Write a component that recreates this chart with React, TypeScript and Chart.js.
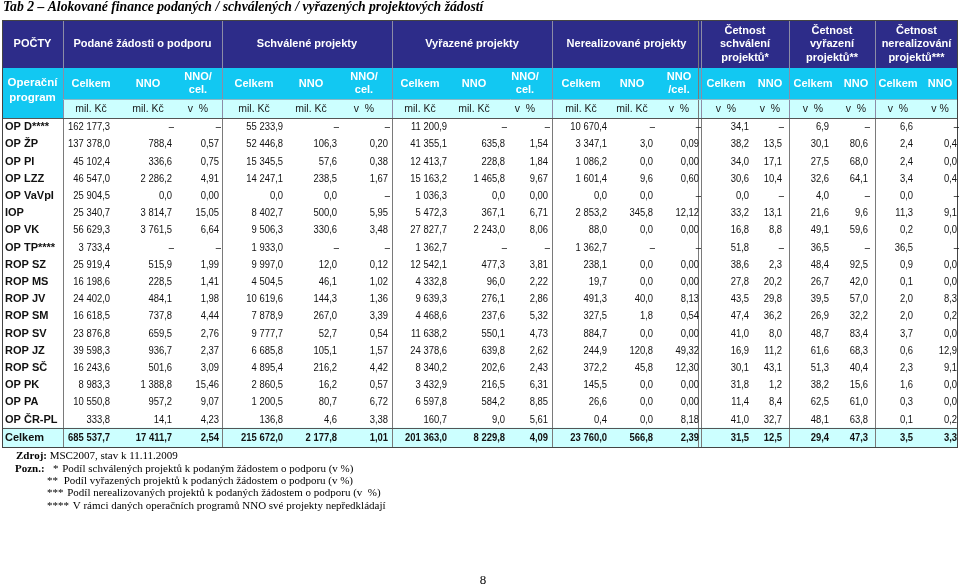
import React, { useEffect, useRef } from "react";
import { Chart, registerables } from "chart.js";

Chart.register(...registerables);

// ---------- DATA ----------
const titleText = "Tab 2 – Alokované finance podaných / schválených / vyřazených projektových žádostí";

const programs = [
  "OP D****", "OP ŽP", "OP PI", "OP LZZ", "OP VaVpI", "IOP", "OP VK", "OP TP****",
  "ROP SZ", "ROP MS", "ROP JV", "ROP SM", "ROP SV", "ROP JZ", "ROP SČ",
  "OP PK", "OP PA", "OP ČR-PL", "Celkem",
];

// Podané žádosti o podporu
const podaneCelkem = [162177.3, 137378.0, 45102.4, 46547.0, 25904.5, 25340.7, 56629.3, 3733.4, 25919.4, 16198.6, 24402.0, 16618.5, 23876.8, 39598.3, 16243.6, 8983.3, 10550.8, 333.8, 685537.7];
const podaneNNO = [null, 788.4, 336.6, 2286.2, 0.0, 3814.7, 3761.5, null, 515.9, 228.5, 484.1, 737.8, 659.5, 936.7, 501.6, 1388.8, 957.2, 14.1, 17411.7];
const podanePodil = [null, 0.57, 0.75, 4.91, 0.0, 15.05, 6.64, null, 1.99, 1.41, 1.98, 4.44, 2.76, 2.37, 3.09, 15.46, 9.07, 4.23, 2.54];

// Schválené projekty
const schvaleneCelkem = [55233.9, 52446.8, 15345.5, 14247.1, 0.0, 8402.7, 9506.3, 1933.0, 9997.0, 4504.5, 10619.6, 7878.9, 9777.7, 6685.8, 4895.4, 2860.5, 1200.5, 136.8, 215672.0];
const schvaleneNNO = [null, 106.3, 57.6, 238.5, 0.0, 500.0, 330.6, null, 12.0, 46.1, 144.3, 267.0, 52.7, 105.1, 216.2, 16.2, 80.7, 4.6, 2177.8];
const schvalenePodil = [null, 0.2, 0.38, 1.67, null, 5.95, 3.48, null, 0.12, 1.02, 1.36, 3.39, 0.54, 1.57, 4.42, 0.57, 6.72, 3.38, 1.01];

// Vyřazené projekty
const vyrazeneCelkem = [11200.9, 41355.1, 12413.7, 15163.2, 1036.3, 5472.3, 27827.7, 1362.7, 12542.1, 4332.8, 9639.3, 4468.6, 11638.2, 24378.6, 8340.2, 3432.9, 6597.8, 160.7, 201363.0];
const vyrazeneNNO = [null, 635.8, 228.8, 1465.8, 0.0, 367.1, 2243.0, null, 477.3, 96.0, 276.1, 237.6, 550.1, 639.8, 202.6, 216.5, 584.2, 9.0, 8229.8];
const vyrazenePodil = [null, 1.54, 1.84, 9.67, 0.0, 6.71, 8.06, null, 3.81, 2.22, 2.86, 5.32, 4.73, 2.62, 2.43, 6.31, 8.85, 5.61, 4.09];

// Nerealizované projekty
const nerealCelkem = [10670.4, 3347.1, 1086.2, 1601.4, 0.0, 2853.2, 88.0, 1362.7, 238.1, 19.7, 491.3, 327.5, 884.7, 244.9, 372.2, 145.5, 26.6, 0.4, 23760.0];
const nerealNNO = [null, 3.0, 0.0, 9.6, 0.0, 345.8, 0.0, null, 0.0, 0.0, 40.0, 1.8, 0.0, 120.8, 45.8, 0.0, 0.0, 0.0, 566.8];
const nerealPodil = [null, 0.09, 0.0, 0.6, null, 12.12, 0.0, null, 0.0, 0.0, 8.13, 0.54, 0.0, 49.32, 12.3, 0.0, 0.0, 8.18, 2.39];

// Četnost schválení / vyřazení / nerealizování (v %)
const cetSchvCelkem = [34.1, 38.2, 34.0, 30.6, 0.0, 33.2, 16.8, 51.8, 38.6, 27.8, 43.5, 47.4, 41.0, 16.9, 30.1, 31.8, 11.4, 41.0, 31.5];
const cetSchvNNO = [null, 13.5, 17.1, 10.4, null, 13.1, 8.8, null, 2.3, 20.2, 29.8, 36.2, 8.0, 11.2, 43.1, 1.2, 8.4, 32.7, 12.5];
const cetVyrCelkem = [6.9, 30.1, 27.5, 32.6, 4.0, 21.6, 49.1, 36.5, 48.4, 26.7, 39.5, 26.9, 48.7, 61.6, 51.3, 38.2, 62.5, 48.1, 29.4];
const cetVyrNNO = [null, 80.6, 68.0, 64.1, null, 9.6, 59.6, null, 92.5, 42.0, 57.0, 32.2, 83.4, 68.3, 40.4, 15.6, 61.0, 63.8, 47.3];
const cetNerCelkem = [6.6, 2.4, 2.4, 3.4, 0.0, 11.3, 0.2, 36.5, 0.9, 0.1, 2.0, 2.0, 3.7, 0.6, 2.3, 1.6, 0.3, 0.1, 3.5];
const cetNerNNO = [null, 0.4, 0.0, 0.4, null, 9.1, 0.0, null, 0.0, 0.0, 8.3, 0.2, 0.0, 12.9, 9.1, 0.0, 0.0, 0.2, 3.3];

const groupTitles = [
  ["POČTY"],
  ["Podané žádosti o podporu"],
  ["Schválené projekty"],
  ["Vyřazené projekty"],
  ["Nerealizované projekty"],
  ["Četnost", "schválení", "projektů*"],
  ["Četnost", "vyřazení", "projektů**"],
  ["Četnost", "nerealizování", "projektů***"],
];
const rowHeaderLabel = ["Operační", "program"];
const subHeaders = [
  ["Celkem"], ["NNO"], ["NNO/", "cel."],
  ["Celkem"], ["NNO"], ["NNO/", "cel."],
  ["Celkem"], ["NNO"], ["NNO/", "cel."],
  ["Celkem"], ["NNO"], ["NNO", "/cel."],
  ["Celkem"], ["NNO"], ["Celkem"], ["NNO"], ["Celkem"], ["NNO"],
];
const unitLabels = [
  "mil. Kč", "mil. Kč", "v  %", "mil. Kč", "mil. Kč", "v  %", "mil. Kč", "mil. Kč", "v  %",
  "mil. Kč", "mil. Kč", "v  %", "v  %", "v  %", "v  %", "v  %", "v  %", "v %",
];
const sourceLabel = "Zdroj:";
const sourceText = " MSC2007, stav k 11.11.2009";
const noteLabel = "Pozn.:";
const notes = [
  ["*", "Podíl schválených projektů k podaným žádostem o podporu (v %)"],
  ["**", "Podíl vyřazených projektů k podaných žádostem o podporu (v %)"],
  ["***", "Podíl nerealizovaných projektů k podaných žádostem o podporu (v  %)"],
  ["****", "V rámci daných operačních programů NNO své projekty nepředkládají"],
];
const pageNumber = "8";

const columns = [
  podaneCelkem, podaneNNO, podanePodil,
  schvaleneCelkem, schvaleneNNO, schvalenePodil,
  vyrazeneCelkem, vyrazeneNNO, vyrazenePodil,
  nerealCelkem, nerealNNO, nerealPodil,
  cetSchvCelkem, cetSchvNNO, cetVyrCelkem, cetVyrNNO, cetNerCelkem, cetNerNNO,
];
const decimals = [1, 1, 2, 1, 1, 2, 1, 1, 2, 1, 1, 2, 1, 1, 1, 1, 1, 1];

// ---------- LAYOUT (table units) ----------
const TABLE_W = 956;
const TABLE_H = 428;
const groupEdges = [0, 61, 220, 390, 550, 699, 787, 873, 956];
const colRight = [108, 170, 217, 281, 335, 386, 445, 503, 546, 605, 651, 697, 747, 780, 827, 866, 911, 955];
const subCenters = [89, 146, 196, 252, 309, 362, 418, 472, 523, 579, 630, 677, 724, 768, 811, 854, 896, 938];
const BAND1 = 48;
const BAND2 = 79;
const BAND3 = 98;
const ROW_H = 17.2;
const TOTAL_H = TABLE_H - BAND3 - ROW_H * 18;

const rowCenter = (r: number) => (r < 18 ? BAND3 + ROW_H * (r + 0.5) : BAND3 + ROW_H * 18 + TOTAL_H / 2);

const SANS = '"Liberation Sans", Arial, sans-serif';
const SERIF = '"Liberation Serif", "Times New Roman", serif';
const DARK = "#2d2c89";
const CYAN = "#12c8f2";
const LIGHT = "#ccffff";
const NARROW = 0.82;

const fmt = (v: number | null, d: number) => {
  if (v === null) return "–";
  const s = v.toFixed(d);
  const parts = s.split(".");
  const i = parts[0].replace(/\B(?=(\d{3})+(?!\d))/g, " ");
  return parts[1] ? i + "," + parts[1] : i;
};

const tablePlugin = {
  id: "tablePlugin",
  beforeDatasetsDraw(chart: any) {
    const ctx: CanvasRenderingContext2D = chart.ctx;
    const xs = chart.scales.x;
    const ys = chart.scales.y;
    const X = (u: number) => xs.getPixelForValue(u);
    const Y = (u: number) => ys.getPixelForValue(u);
    ctx.save();
    ctx.fillStyle = "#ffffff";
    ctx.fillRect(0, 0, chart.width, chart.height);
    // bands
    ctx.fillStyle = DARK;
    ctx.fillRect(X(0), Y(0), X(TABLE_W) - X(0), Y(BAND1) - Y(0));
    ctx.fillStyle = CYAN;
    ctx.fillRect(X(0), Y(BAND1), X(TABLE_W) - X(0), Y(BAND2) - Y(BAND1));
    ctx.fillRect(X(0), Y(BAND2), X(groupEdges[1]) - X(0), Y(BAND3) - Y(BAND2));
    ctx.fillStyle = LIGHT;
    ctx.fillRect(X(groupEdges[1]), Y(BAND2), X(TABLE_W) - X(groupEdges[1]), Y(BAND3) - Y(BAND2));
    const totTop = BAND3 + ROW_H * 18;
    ctx.fillRect(X(0), Y(totTop), X(TABLE_W) - X(0), Y(TABLE_H) - Y(totTop));

    // lines
    const vline = (u: number, y0: number, y1: number, color: string) => {
      const px = Math.round(X(u)) + 0.5;
      ctx.strokeStyle = color;
      ctx.lineWidth = 1;
      ctx.beginPath();
      ctx.moveTo(px, Y(y0));
      ctx.lineTo(px, Y(y1));
      ctx.stroke();
    };
    const hline = (u: number, x0: number, x1: number, color: string) => {
      const py = Math.round(Y(u)) + 0.5;
      ctx.strokeStyle = color;
      ctx.lineWidth = 1;
      ctx.beginPath();
      ctx.moveTo(X(x0), py);
      ctx.lineTo(X(x1), py);
      ctx.stroke();
    };
    for (let g = 1; g < groupEdges.length - 1; g++) {
      vline(groupEdges[g], 0, BAND3, "#8c8ca6");
      vline(groupEdges[g], BAND3, TABLE_H, "#7a7a7a");
    }
    vline(groupEdges[5] - 3, 0, TABLE_H, "#7a7a7a");
    hline(BAND2, groupEdges[1], TABLE_W, "#8fb8c4");
    hline(BAND3, 0, TABLE_W, "#555555");
    hline(totTop, 0, TABLE_W, "#555555");
    ctx.strokeStyle = "#444444";
    ctx.strokeRect(Math.round(X(0)) + 0.5, Math.round(Y(0)) + 0.5, Math.round(X(TABLE_W) - X(0)) - 1, Math.round(Y(TABLE_H) - Y(0)) - 1);

    // header text
    ctx.textBaseline = "middle";
    ctx.textAlign = "center";
    ctx.fillStyle = "#ffffff";
    ctx.font = `bold 11px ${SANS}`;
    groupTitles.forEach((lines, g) => {
      const cx = (X(groupEdges[g]) + X(groupEdges[g + 1])) / 2;
      const n = lines.length;
      lines.forEach((t, i) => {
        ctx.fillText(t, cx, Y(BAND1 / 2 + (i - (n - 1) / 2) * 13.5));
      });
    });
    ctx.font = `bold 11.5px ${SANS}`;
    rowHeaderLabel.forEach((t, i) => {
      ctx.fillText(t, (X(0) + X(groupEdges[1])) / 2, Y(63 + i * 15));
    });
    ctx.font = `bold 11px ${SANS}`;
    const c2 = (BAND1 + BAND2) / 2;
    subHeaders.forEach((lines, c) => {
      const n = lines.length;
      lines.forEach((t, i) => {
        ctx.fillText(t, X(subCenters[c]), Y(c2 + (i - (n - 1) / 2) * 13));
      });
    });
    ctx.fillStyle = "#1a1a1a";
    ctx.font = `10.5px ${SANS}`;
    unitLabels.forEach((t, c) => {
      ctx.fillText(t, X(subCenters[c]), Y((BAND2 + BAND3) / 2 + 0.5));
    });
    ctx.restore();
  },
  afterDatasetsDraw(chart: any) {
    const ctx: CanvasRenderingContext2D = chart.ctx;
    const xs = chart.scales.x;
    const ys = chart.scales.y;
    const X = (u: number) => xs.getPixelForValue(u);
    const Y = (u: number) => ys.getPixelForValue(u);
    ctx.save();
    ctx.textBaseline = "middle";
    ctx.fillStyle = "#111111";
    // row labels
    ctx.textAlign = "left";
    ctx.font = `bold 11px ${SANS}`;
    programs.forEach((p, r) => {
      ctx.fillText(p, X(0) + 3, Y(rowCenter(r)) + 0.5);
    });
    // cell values from dataset elements (narrow face)
    ctx.textAlign = "right";
    chart.data.datasets.forEach((ds: any, c: number) => {
      const meta = chart.getDatasetMeta(c);
      meta.data.forEach((el: any, r: number) => {
        const v = columns[c][r] as number | null;
        ctx.font = r === 18 ? `bold 11.5px ${SANS}` : `11.5px ${SANS}`;
        const txt = fmt(v, decimals[c]);
        ctx.save();
        ctx.translate(el.x + (v === null ? 2 : 0), el.y + 0.5);
        ctx.scale(NARROW, 1);
        ctx.fillText(txt, 0, 0);
        ctx.restore();
      });
    });
    // title
    ctx.textBaseline = "alphabetic";
    ctx.textAlign = "left";
    ctx.fillStyle = "#000000";
    ctx.font = `italic bold 13.7px ${SERIF}`;
    ctx.fillText(titleText, X(0) + 1, Y(0) - 9.5);
    // footnotes
    const fx = X(0);
    const fy = Y(TABLE_H);
    ctx.font = `bold 11px ${SERIF}`;
    ctx.fillText(sourceLabel, fx + 14, fy + 11);
    const w1 = ctx.measureText(sourceLabel).width;
    ctx.font = `11px ${SERIF}`;
    ctx.fillText(sourceText, fx + 14 + w1, fy + 11);
    ctx.font = `bold 11px ${SERIF}`;
    ctx.fillText(noteLabel, fx + 13, fy + 23.5);
    ctx.font = `11px ${SERIF}`;
    notes.forEach((n, i) => {
      const y = fy + 23.5 + i * 12.4;
      const sx = i === 0 ? fx + 51 : fx + 45;
      ctx.fillText(n[0], sx, y);
      const sw = ctx.measureText(n[0] + " ").width;
      ctx.fillText(n[1], sx + sw + (i === 1 ? 3 : 1), y);
    });
    ctx.font = `13px ${SERIF}`;
    ctx.textAlign = "center";
    ctx.fillText(pageNumber, (X(0) + X(TABLE_W)) / 2 + 3, chart.height - 3);
    ctx.restore();
  },
};

export default function App() {
  const ref = useRef<HTMLCanvasElement | null>(null);
  useEffect(() => {
    document.body.style.margin = "0";
    const canvas = ref.current;
    if (!canvas) return;
    const chart = new Chart(canvas, {
      type: "scatter",
      data: {
        datasets: columns.map((col, c) => ({
          label: "col" + c,
          data: col.map((_, r) => ({ x: colRight[c], y: rowCenter(r) })),
          pointRadius: 0,
          pointHoverRadius: 0,
          showLine: false,
        })),
      },
      options: {
        animation: false,
        responsive: false,
        events: [],
        devicePixelRatio: 1,
        layout: { padding: { left: 2, right: 2, top: 20, bottom: 139 } },
        plugins: {
          legend: { display: false },
          tooltip: { enabled: false },
          title: { display: false },
        },
        scales: {
          x: { type: "linear", min: 0, max: TABLE_W, display: false },
          y: { type: "linear", min: 0, max: TABLE_H, reverse: true, display: false },
        },
      },
      plugins: [tablePlugin],
    } as any);
    return () => chart.destroy();
  }, []);
  return (
    <div style={{ width: 960, height: 587 }}>
      <canvas ref={ref} width={960} height={587} style={{ display: "block" }} />
    </div>
  );
}
